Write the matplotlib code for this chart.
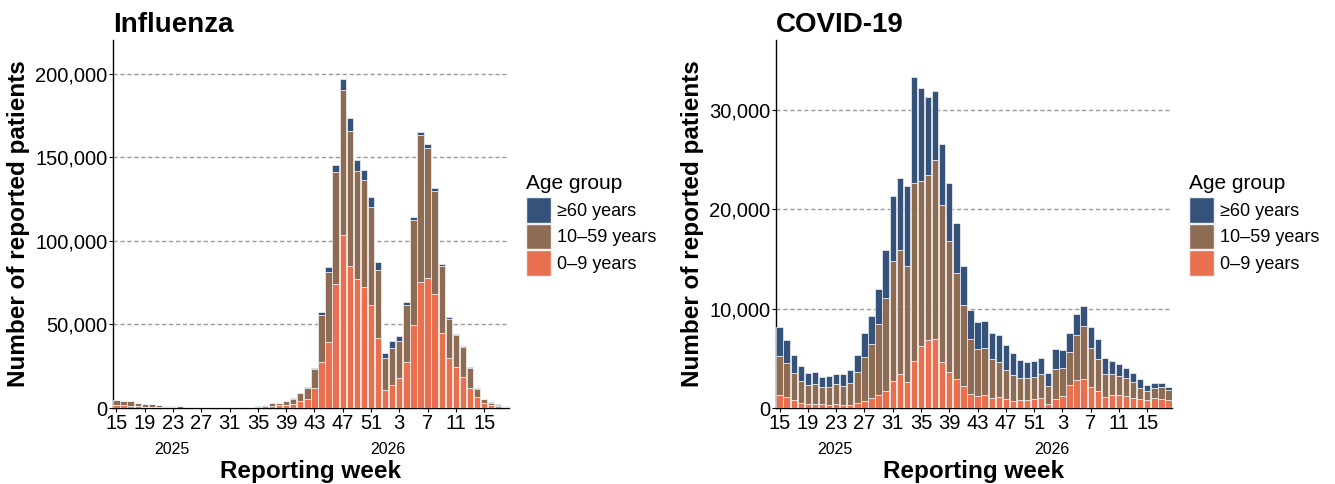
import numpy as np
import matplotlib
matplotlib.use("Agg")
import matplotlib.pyplot as plt
from matplotlib.patches import Patch
from matplotlib.ticker import FuncFormatter

plt.rcParams['font.family'] = ['Liberation Sans', 'DejaVu Sans']

#---------------data----------------#

# reporting weeks: 2025 w15 .. 2026 w18
weeks = list(range(15, 53)) + list(range(1, 19))
years = ["2025", "2026"]
age_groups = ["≥60 years", "10–59 years", "0–9 years"]

# Influenza
flu_0_9 = [1800, 1600, 1200, 1000, 800, 800, 600, 400, 400, 200, 250, 250, 250, 250, 250,
           250, 250, 250, 250, 250, 300, 1000, 1400, 1600, 2000, 2600, 4000, 5400, 11800,
           27800, 39600, 74200, 103400, 84800, 77000, 72600, 61800, 42000, 10800, 13800,
           18200, 27600, 49400, 75200, 77600, 68400, 45000, 30200, 24400, 18800, 12000,
           6400, 2800, 1800, 1400, 800]
flu_10_59 = [2700, 2600, 2850, 1900, 1500, 1700, 1100, 900, 550, 750, 550, 550, 550, 550, 550,
             550, 550, 550, 550, 550, 600, 750, 1300, 1500, 2000, 3000, 4900, 6600, 11600,
             28000, 42000, 66800, 86800, 80600, 64800, 63600, 58200, 40600, 19200, 22200,
             22000, 33800, 63200, 87800, 78200, 61200, 39800, 23200, 19200, 17800, 11800,
             5200, 2600, 1400, 700, 500]
flu_60 = [200, 200, 150, 100, 100, 100, 100, 100, 50, 50, 50, 50, 50, 50, 50,
          50, 50, 50, 50, 50, 50, 50, 100, 100, 200, 400, 300, 400, 800,
          1400, 2600, 4400, 6600, 7800, 6400, 6000, 6000, 5000, 3000, 4000,
          2800, 2000, 1800, 2000, 2000, 1800, 1400, 1000, 600, 600, 600,
          600, 200, 200, 100, 100]

# COVID-19
cov_0_9 = [1350, 1110, 770, 510, 400, 440, 370, 270, 400, 340, 340, 540, 740, 980, 1350,
           1680, 2690, 3430, 2630, 4710, 6260, 6870, 6900, 4610, 3600, 2900, 2220, 1410,
           1210, 1350, 980, 1080, 880, 740, 840, 810, 940, 1010, 400, 910, 1250, 2290,
           2800, 2900, 2120, 1750, 1110, 1350, 1350, 1180, 1040, 880, 810, 980, 910, 770]
cov_10_59 = [3910, 3430, 2800, 2190, 1920, 1990, 1750, 1820, 2020, 1920, 2190, 3060, 4440,
             5450, 7100, 9390, 12050, 12420, 11620, 17880, 16530, 16530, 18010, 15860,
             13170, 10640, 8110, 5520, 4750, 4710, 3940, 3570, 2930, 2560, 2160, 2190,
             2190, 2390, 1820, 3000, 2760, 3300, 4550, 5320, 3940, 3200, 2320, 2090, 1920,
             1790, 1580, 1110, 880, 1010, 1180, 1010]
cov_60 = [2860, 2260, 1750, 1480, 1210, 1210, 1040, 1080, 1040, 1150, 1250, 1750, 2390,
          2800, 3570, 4820, 6600, 7240, 8050, 10710, 9390, 7910, 6940, 6130, 5830, 5020,
          3940, 2960, 2660, 2660, 2590, 2660, 2490, 2190, 1790, 1620, 1620, 1620, 1350,
          2020, 1790, 1950, 2120, 2020, 2050, 1950, 1620, 1310, 1180, 1080, 940, 880,
          610, 510, 400, 340]

c_60 = "#35527a"
c_10 = "#8e6b53"
c_0 = "#e8704f"

#---------------plot----------------#

fig = plt.figure(figsize=(13.35, 4.84), dpi=100)
ax1 = fig.add_axes([0.0846, 0.157, 0.2966, 0.760])
ax2 = fig.add_axes([0.5813, 0.157, 0.2966, 0.760])

x = np.arange(len(weeks))


def draw(ax, young, mid, old, title, ymax, yticks):
    young = np.array(young)
    mid = np.array(mid)
    old = np.array(old)
    kw = dict(width=0.9, edgecolor="#f2f2f2", linewidth=0.5, zorder=3)
    ax.bar(x, young, color=c_0, **kw)
    ax.bar(x, mid, bottom=young, color=c_10, **kw)
    ax.bar(x, old, bottom=young + mid, color=c_60, **kw)

    ax.set_xlim(-0.5, len(weeks) - 0.5)
    ax.set_ylim(0, ymax)
    ax.set_yticks(yticks)
    ax.yaxis.set_major_formatter(FuncFormatter(lambda v, p: f"{int(v):,}"))
    ax.set_xticks(x[::4])
    ax.set_xticklabels([str(w) for w in weeks[::4]])
    ax.tick_params(labelsize=14.5, length=3, width=0.8, pad=1)

    for v in yticks[1:]:
        ax.axhline(v, color="#999999", linestyle=(0, (3, 2)), linewidth=1, zorder=1)

    for s in ["top", "right"]:
        ax.spines[s].set_visible(False)
    ax.spines["left"].set_linewidth(1)
    ax.spines["bottom"].set_linewidth(1)

    # year labels under the week ticks
    tr = ax.get_xaxis_transform()
    ax.text(7.8, -0.112, years[0], transform=tr, ha="center", va="center", fontsize=11.5)
    ax.text(38.45, -0.112, years[1], transform=tr, ha="center", va="center", fontsize=11.5)

    ax.set_xlabel("Reporting week", fontsize=17.5, fontweight="bold", labelpad=20)
    ax.set_ylabel("Number of reported patients", fontsize=17.5, fontweight="bold", labelpad=4)
    ax.set_title(title, loc="left", fontsize=20, fontweight="bold", pad=6, x=0.0)

    # legend, title drawn as separate text
    ax.text(1.042, 0.611, "Age group", transform=ax.transAxes, ha="left", va="center",
            fontsize=15)
    handles = [Patch(facecolor=c_60, edgecolor="#f2f2f2"),
               Patch(facecolor=c_10, edgecolor="#f2f2f2"),
               Patch(facecolor=c_0, edgecolor="#f2f2f2")]
    ax.legend(handles, age_groups, loc="upper left",
              bbox_to_anchor=(1.042, 0.573), frameon=False, fontsize=13,
              handlelength=1.4, handleheight=1.8, borderpad=0,
              handletextpad=0.35, labelspacing=0.05, borderaxespad=0)


draw(ax1, flu_0_9, flu_10_59, flu_60, "Influenza", 220000,
     [0, 50000, 100000, 150000, 200000])
draw(ax2, cov_0_9, cov_10_59, cov_60, "COVID-19", 37000,
     [0, 10000, 20000, 30000])

fig.savefig("out.png", dpi=100)
